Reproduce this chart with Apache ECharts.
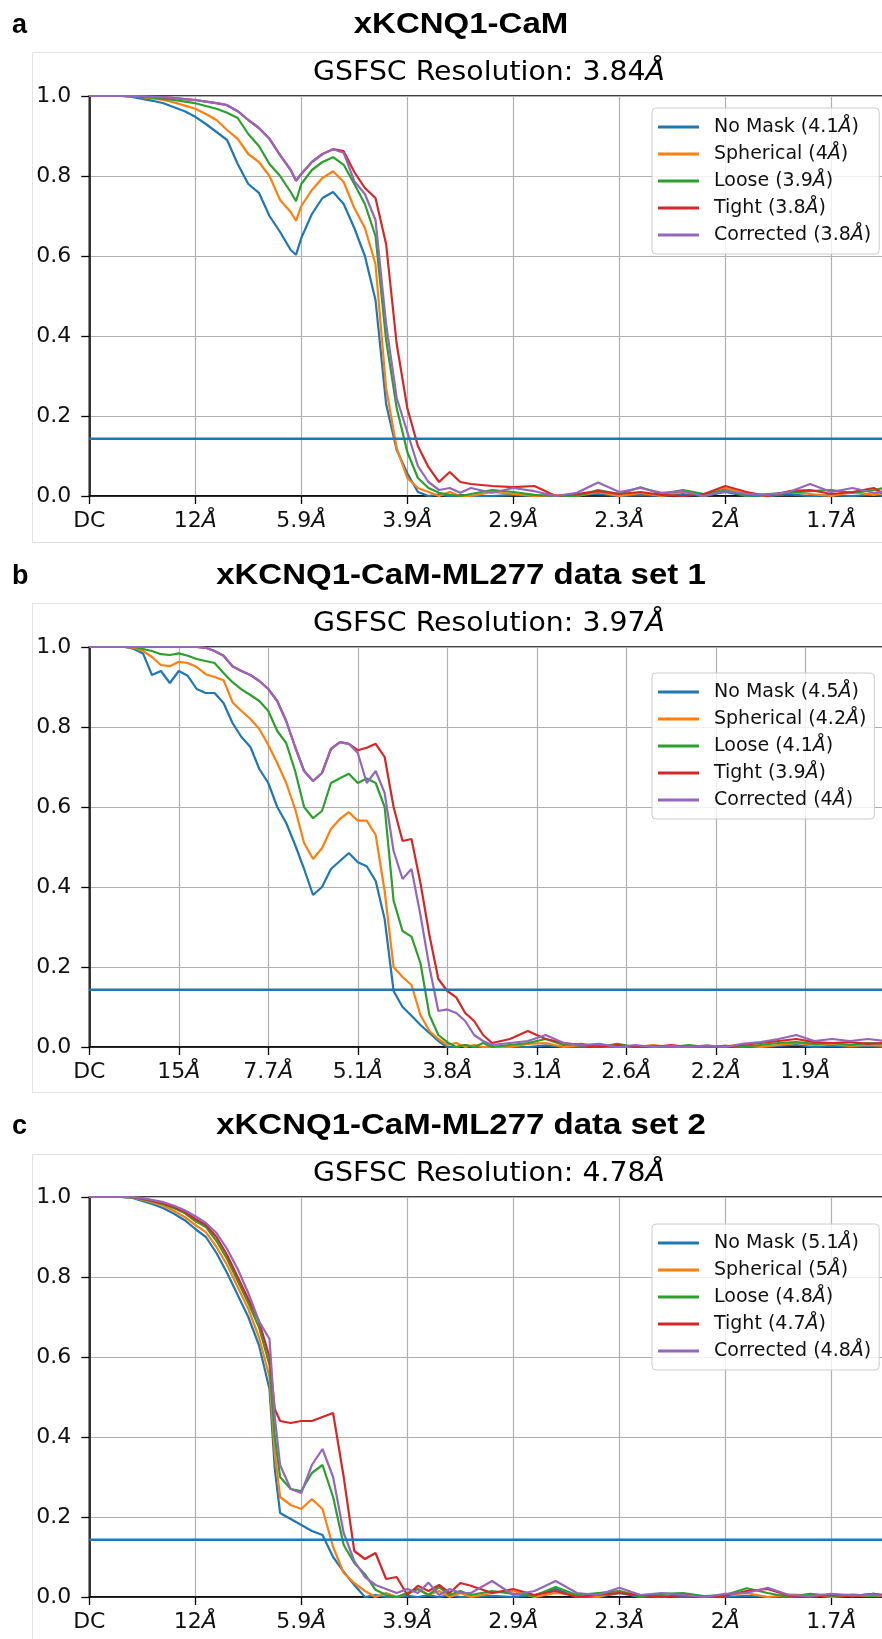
<!DOCTYPE html>
<html>
<head>
<meta charset="utf-8">
<title>GSFSC curves</title>
<script src="https://cdn.jsdelivr.net/npm/echarts@6/dist/echarts.min.js"></script>
<style>
  html, body { margin: 0; padding: 0; background: #fff; }
  #fsc_main { width: 882px; height: 1639px; }
</style>
</head>
<body>
<div id="fsc_main"></div>
<script>
// x positions are in "tick units" (0 = DC, 1 = first resolution tick, ...)
const maskNames = ['No Mask', 'Spherical', 'Loose', 'Tight', 'Corrected'];
const fscThreshold = 0.143;

// ---- panel a : xKCNQ1-CaM
const ticksA = ['DC', '12Å', '5.9Å', '3.9Å', '2.9Å', '2.3Å', '2Å', '1.7Å'];
const resA = ['4.1', '4', '3.9', '3.8', '3.8'];
const freqA = [0,0.1,0.2,0.3,0.4,0.5,0.6,0.7,0.8,0.9,1,1.1,1.2,1.3,1.4,1.5,1.6,1.7,1.8,1.9,1.95,2,2.1,2.2,2.3,2.4,2.5,2.6,2.7,2.8,2.9,3,3.1,3.2,3.3,3.4,3.5,
  3.6,3.8,4,4.2,4.4,4.6,4.8,5,5.2,5.4,5.6,5.8,6,6.2,6.4,6.6,6.8,7,7.2,7.4,7.5];
const noMaskA = [1,1,1,1,0.998, 0.993,0.988,0.982,0.972,0.962, 0.948,0.93,0.91,0.89,0.83, 0.78,0.758,0.7,0.66,0.615, 0.603, 0.645,0.705,0.745,0.76,0.73, 0.67,0.6,0.49,0.23,0.115, 0.057,0.01,0,0.004,0,0.003,
  0,0,0.003,0,0, 0.002,0.005,0,0.003,0, 0.005,0,0.01,0,0, 0.004,0,0.002,0,0.004, 0];
const sphericalA = [1,1,1,1,0.999, 0.997,0.994,0.99,0.984,0.976, 0.968,0.955,0.94,0.915,0.893, 0.855,0.835,0.8,0.74,0.71, 0.688, 0.725,0.765,0.795,0.812,0.785, 0.72,0.67,0.58,0.27,0.12, 0.045,0.02,0.01,0,0.01,0,
  0,0.01,0.005,0,0.002, 0,0.01,0,0.008,0, 0.01,0,0.02,0.005,0, 0.01,0.005,0,0.01,0.003, 0.008];
const looseA = [1,1,1,1,1, 0.998,0.996,0.993,0.99,0.986, 0.982,0.975,0.968,0.958,0.945, 0.905,0.875,0.83,0.8,0.76, 0.737, 0.78,0.815,0.835,0.847,0.828, 0.78,0.73,0.65,0.39,0.22, 0.11,0.045,0.02,0.008,0.003,0,
  0.005,0.015,0.01,0.003,0, 0,0.015,0.005,0.022,0.005, 0.015,0.005,0.015,0,0.005, 0.008,0.012,0.015,0.008,0.015, 0.02];
const tightA = [1,1,1,1,1, 0.999,0.998,0.997,0.995,0.992, 0.99,0.986,0.982,0.977,0.962, 0.94,0.92,0.893,0.852,0.815, 0.788, 0.805,0.835,0.855,0.867,0.862, 0.81,0.77,0.745,0.63,0.38, 0.22,0.125,0.072,0.035,0.06,0.035,
  0.03,0.025,0.022,0.025,0, 0.005,0.012,0.005,0.01,0.003, 0,0.005,0.025,0.01,0, 0.012,0.015,0.005,0.01,0.02, 0.005];
const correctedA = [1,1,1,1,1, 0.999,0.998,0.997,0.995,0.992, 0.99,0.986,0.982,0.977,0.962, 0.94,0.92,0.893,0.852,0.815, 0.788, 0.805,0.835,0.855,0.867,0.858, 0.787,0.755,0.69,0.43,0.245, 0.16,0.075,0.035,0.015,0.02,0.008,
  0.02,0.008,0.02,0.012,0, 0.008,0.034,0.01,0.02,0.008, 0.012,0,0.012,0.005,0.003, 0.01,0.03,0.01,0.02,0.008, 0.012];

// ---- panel b : xKCNQ1-CaM-ML277 data set 1
const ticksB = ['DC', '15Å', '7.7Å', '5.1Å', '3.8Å', '3.1Å', '2.6Å', '2.2Å', '1.9Å'];
const resB = ['4.5', '4.2', '4.1', '3.9', '4'];
const freqB = [0,0.1,0.2,0.3,0.4,0.5,0.6,0.7,0.8,0.9,1,1.1,1.2,1.3,1.4,1.5,1.6,1.7,1.8,1.9,2,2.1,2.2,2.3,2.4,2.5,2.6,2.7,2.8,2.9,3,3.1,3.2,3.3,3.4,3.5,3.6,3.7,3.8,3.9,4,4.1,4.2,4.3,4.4,4.5,
  4.7,4.9,5.1,5.3,5.5,5.7,5.9,6.1,6.3,6.5,6.7,6.9,7.1,7.3,7.5,7.7,7.9,8.1,8.3,8.5,8.7,8.9];
const noMaskB = [1,1,1,1,1, 0.995,0.984,0.93,0.94,0.91, 0.94,0.928,0.895,0.885,0.885, 0.86,0.81,0.775,0.75,0.695, 0.66,0.6,0.56,0.505,0.445, 0.38,0.4,0.445,0.465,0.485, 0.462,0.452,0.415,0.32,0.14, 0.1,0.078,0.055,0.035,0.015, 0,0,0.005,0,0,0,
  0,0,0.004,0,0, 0.002,0,0,0,0.002, 0,0,0.003,0,0, 0.003,0.005,0,0.003,0, 0.002,0];
const sphericalB = [1,1,1,1,1, 0.998,0.99,0.975,0.955,0.952, 0.963,0.96,0.95,0.932,0.925, 0.917,0.862,0.84,0.82,0.795, 0.755,0.71,0.66,0.595,0.51, 0.47,0.497,0.545,0.57,0.587, 0.566,0.566,0.53,0.39,0.2, 0.175,0.155,0.08,0.04,0.02, 0.005,0.01,0,0.005,0,0,
  0,0.008,0.01,0,0.005, 0,0.003,0,0.005,0, 0.003,0,0.002,0.005,0, 0.005,0.01,0.005,0.008,0.003, 0.005,0.003];
const looseB = [1,1,1,1,1, 1,0.995,0.99,0.982,0.98, 0.984,0.978,0.97,0.965,0.96, 0.935,0.912,0.894,0.88,0.865, 0.84,0.79,0.76,0.69,0.6, 0.572,0.59,0.66,0.672,0.683, 0.66,0.671,0.66,0.6,0.366, 0.29,0.276,0.21,0.08,0.03, 0.012,0,0.005,0,0.01,0,
  0.005,0.01,0.02,0.005,0.008, 0,0.008,0,0.003,0, 0.005,0,0.003,0,0.005, 0.01,0.012,0.008,0.01,0.005, 0.01,0.008];
const tightB = [1,1,1,1,1, 1,1,1,1,1, 1,1,1,0.998,0.99, 0.978,0.952,0.94,0.93,0.915, 0.895,0.865,0.815,0.75,0.69, 0.665,0.685,0.745,0.762,0.758, 0.742,0.748,0.758,0.725,0.6, 0.515,0.52,0.41,0.28,0.17, 0.14,0.124,0.085,0.065,0.03,0.01,
  0.02,0.04,0.02,0.01,0.005, 0,0.005,0,0,0.005, 0,0.003,0,0.005,0.01, 0.015,0.02,0.012,0.01,0.012, 0.008,0.01];
const correctedB = [1,1,1,1,1, 1,1,1,1,1, 1,1,1,0.998,0.99, 0.978,0.952,0.94,0.93,0.915, 0.895,0.865,0.815,0.75,0.69, 0.665,0.685,0.745,0.762,0.758, 0.735,0.66,0.69,0.635,0.49, 0.42,0.445,0.33,0.2,0.09, 0.094,0.085,0.065,0.03,0.015,0.005,
  0.01,0.015,0.03,0.01,0.005, 0.008,0,0.005,0,0.002, 0,0.004,0,0.008,0.012, 0.02,0.03,0.015,0.02,0.015, 0.02,0.015];

// ---- panel c : xKCNQ1-CaM-ML277 data set 2
const ticksC = ['DC', '12Å', '5.9Å', '3.9Å', '2.9Å', '2.3Å', '2Å', '1.7Å'];
const resC = ['5.1', '5', '4.8', '4.7', '4.8'];
const freqC = [0,0.1,0.2,0.3,0.4,0.5,0.6,0.7,0.8,0.9,1,1.1,1.2,1.3,1.4,1.5,1.6,1.7,1.75,1.8,1.9,2,2.1,2.2,2.3,2.4,2.5,2.6,2.7,2.8,2.9,3,3.1,3.2,3.3,3.4,3.5,
  3.6,3.8,4,4.2,4.4,4.6,4.8,5,5.2,5.4,5.6,5.8,6,6.2,6.4,6.6,6.8,7,7.2,7.4,7.5];
const noMaskC = [1,1,1,1,0.998, 0.99,0.982,0.972,0.958,0.942, 0.92,0.9,0.86,0.81,0.755, 0.7,0.63,0.52, 0.32, 0.21,0.195, 0.18,0.165,0.155,0.1,0.063, 0.03,0,0.005,0,0, 0.003,0,0.004,0,0.005,0,
  0,0.003,0,0.005,0.02, 0,0,0.01,0,0.003, 0,0.002,0,0.003,0, 0,0.003,0.005,0.002,0.008, 0.004];
const sphericalC = [1,1,1,1,0.999, 0.993,0.986,0.978,0.965,0.95, 0.93,0.912,0.875,0.83,0.775, 0.72,0.65,0.55, 0.36, 0.25,0.23, 0.22,0.245,0.22,0.125,0.06, 0.035,0.015,0,0.01,0, 0.008,0.02,0.005,0.015,0,0.01,
  0,0.01,0.015,0,0.01, 0.005,0,0.015,0.005,0, 0.008,0,0.005,0.01,0, 0.006,0.005,0,0.004,0.002, 0.003];
const looseC = [1,1,1,1,0.999, 0.995,0.989,0.982,0.972,0.96, 0.94,0.925,0.89,0.845,0.79, 0.735,0.675,0.58, 0.4, 0.3,0.27, 0.265,0.31,0.33,0.25,0.13, 0.085,0.057,0.018,0.005,0, 0.01,0.02,0.005,0.025,0.005,0.015,
  0.005,0.015,0.008,0.003,0.025, 0.005,0.01,0.015,0,0.008, 0.01,0.002,0.005,0.022,0.01, 0,0.008,0.003,0.006,0.003, 0.005];
const tightC = [1,1,1,1,1, 0.996,0.99,0.984,0.975,0.963, 0.945,0.93,0.9,0.855,0.8, 0.745,0.69,0.6, 0.47, 0.44,0.435, 0.44,0.44,0.45,0.46,0.3, 0.115,0.095,0.11,0.045,0.05, 0.005,0.028,0.015,0.03,0.01,0.035,
  0.028,0.01,0.02,0.005,0.015, 0,0.005,0.01,0.005,0, 0.005,0,0.003,0.015,0.02, 0.003,0,0.005,0.002,0.008, 0.005];
const correctedC = [1,1,1,1,1, 0.997,0.992,0.987,0.978,0.967, 0.952,0.935,0.91,0.87,0.82, 0.76,0.69,0.645, 0.45, 0.33,0.27, 0.26,0.33,0.37,0.3,0.16, 0.09,0.05,0.03,0.02,0.01, 0.02,0.01,0.036,0.005,0.02,0.01,
  0.01,0.04,0.005,0.015,0.04, 0.01,0.005,0.023,0.005,0.01, 0.005,0,0.008,0.01,0.023, 0.005,0.002,0.008,0.004,0.006, 0.003];

const colors = ['#1f77b4', '#ff7f0e', '#2ca02c', '#d62728', '#9467bd'];

const panels = [
  { letter: 'a', title: 'xKCNQ1-CaM', gsfsc: '3.84', ticks: ticksA, res: resA, freq: freqA,
    curves: [noMaskA, sphericalA, looseA, tightA, correctedA],
    top: 96, px: 106, xMax: 7.5, boxTop: 52, boxH: 490, legendTop: 108 },
  { letter: 'b', title: 'xKCNQ1-CaM-ML277 data set 1', gsfsc: '3.97', ticks: ticksB, res: resB, freq: freqB,
    curves: [noMaskB, sphericalB, looseB, tightB, correctedB],
    top: 647, px: 89.5, xMax: 8.9, boxTop: 603, boxH: 489, legendTop: 673 },
  { letter: 'c', title: 'xKCNQ1-CaM-ML277 data set 2', gsfsc: '4.78', ticks: ticksC, res: resC, freq: freqC,
    curves: [noMaskC, sphericalC, looseC, tightC, correctedC],
    top: 1197, px: 106, xMax: 7.5, boxTop: 1154, boxH: 500, legendTop: 1224 }
];

const plotLeft = 89.3;
const plotH = 400;
const tickFont = 'DejaVu Sans';

function richAt(size) {
  return {
    n: { fontFamily: tickFont, fontSize: size, color: '#111' },
    i: { fontFamily: tickFont, fontSize: size, fontStyle: 'italic', color: '#111' }
  };
}
// italic angstrom like matplotlib mathtext
function withAngstrom(s) {
  return s.split('Å').map(p => p ? '{n|' + p + '}' : '').join('{i|Å}');
}

let grids = [], xAxes = [], yAxes = [], series = [], legends = [], graphics = [];

panels.forEach((p, k) => {
  grids.push({
    left: plotLeft, top: p.top, width: p.xMax * p.px, height: plotH,
    show: true, borderColor: '#000', borderWidth: 1.5, backgroundColor: 'transparent',
    outerBoundsMode: 'none'
  });
  xAxes.push({
    type: 'value', gridIndex: k, min: 0, max: p.xMax, interval: 1,
    axisLine: { show: true, onZero: false, lineStyle: { color: '#000', width: 1.5 } },
    axisTick: { show: true, inside: false, length: 8, lineStyle: { color: '#000', width: 1.3 } },
    splitLine: { show: true, lineStyle: { color: '#b0b0b0', width: 1.2 } },
    axisLabel: {
      margin: 14, rich: richAt(22),
      formatter: v => {
        const i = Math.round(v);
        if (Math.abs(v - i) > 1e-6 || i >= p.ticks.length) return '';
        return withAngstrom(p.ticks[i]);
      }
    }
  });
  yAxes.push({
    type: 'value', gridIndex: k, min: 0, max: 1, interval: 0.2,
    axisLine: { show: true, lineStyle: { color: '#000', width: 1.5 } },
    axisTick: { show: true, inside: false, length: 8, lineStyle: { color: '#000', width: 1.3 } },
    splitLine: { show: true, lineStyle: { color: '#b0b0b0', width: 1.2 } },
    axisLabel: { margin: 18, fontFamily: tickFont, fontSize: 22, color: '#111', formatter: v => v.toFixed(1) }
  });

  const names = maskNames.map((m, i) => m + ' (' + p.res[i] + 'Å)');
  p.curves.forEach((vals, i) => {
    series.push({
      name: names[i], type: 'line', xAxisIndex: k, yAxisIndex: k,
      data: p.freq.map((x, j) => [x, vals[j]]),
      showSymbol: false, symbol: 'none', z: 3 + i,
      lineStyle: { color: colors[i], width: 2.2 }, itemStyle: { color: colors[i] }
    });
  });
  series.push({
    name: 'threshold' + k, type: 'line', xAxisIndex: k, yAxisIndex: k,
    data: [[0, fscThreshold], [p.xMax, fscThreshold]],
    showSymbol: false, symbol: 'none', z: 10, silent: true,
    lineStyle: { color: '#1f77b4', width: 2.6 }
  });

  legends.push({
    data: names, orient: 'vertical', left: 652, top: p.legendTop,
    icon: 'rect', itemWidth: 41, itemHeight: 3, itemGap: 7,
    padding: [9, 8, 9, 6], selectedMode: false,
    backgroundColor: 'rgba(255,255,255,0.8)', borderColor: '#cccccc', borderWidth: 1, borderRadius: 4,
    formatter: withAngstrom,
    textStyle: { lineHeight: 20, padding: [0, 0, 0, 10], rich: richAt(19) }
  });

  graphics.push(
    { type: 'rect', z: -10, shape: { x: 32.5, y: p.boxTop + 0.5, width: 900, height: p.boxH },
      style: { fill: 'none', stroke: '#e2e2e2', lineWidth: 1 } },
    { type: 'text', x: 12, y: p.top - 70, style: { text: p.letter, font: 'bold 27px "Liberation Sans"',
      fill: '#000', textAlign: 'left', textVerticalAlign: 'middle' } },
    { type: 'text', x: 461, y: p.top - 71, scaleX: 1.1, style: { text: p.title, font: 'bold 30px "Liberation Sans"',
      fill: '#000', textAlign: 'center', textVerticalAlign: 'middle' } },
    { type: 'text', x: 489, y: p.top - 23, scaleX: 1.05, style: { text: withAngstrom('GSFSC Resolution: ' + p.gsfsc + 'Å'),
      rich: richAt(27), textAlign: 'center', textVerticalAlign: 'middle' } }
  );
});

let myChart = echarts.init(document.getElementById('fsc_main'));
myChart.setOption({
  animation: false,
  backgroundColor: '#fff',
  grid: grids,
  xAxis: xAxes,
  yAxis: yAxes,
  legend: legends,
  series: series,
  graphic: graphics
});
</script>
</body>
</html>
